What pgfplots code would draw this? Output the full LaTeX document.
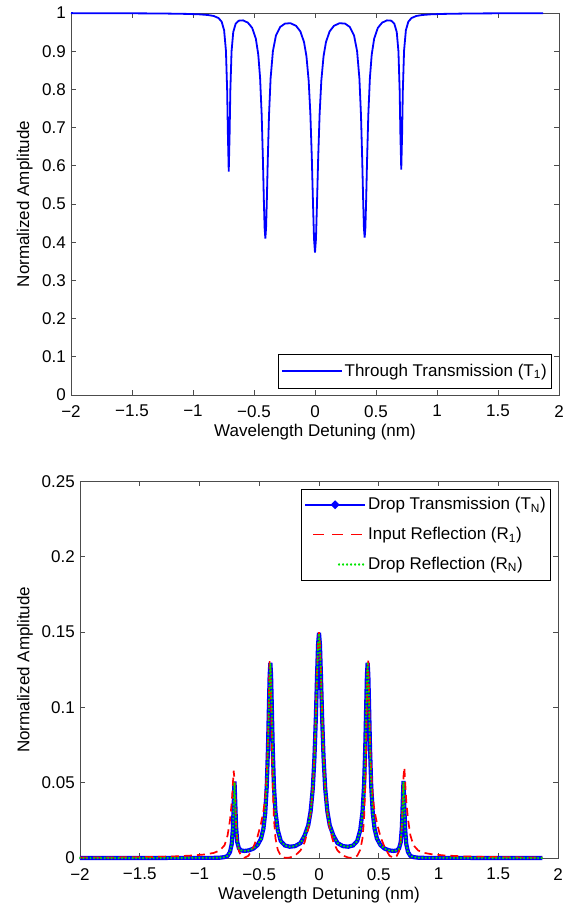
\documentclass[border=0pt]{standalone}
\usepackage{fontspec}
\setmainfont{Liberation Sans}
\usepackage{pgfplots}
\usepackage{pgfplotstable}
\pgfplotsset{compat=1.18}
\definecolor{mblue}{rgb}{0,0,1}
\definecolor{mred}{rgb}{1,0,0}
\definecolor{mgreen}{rgb}{0,0.9,0}
\definecolor{axgray}{gray}{0.3}

\pgfplotstableread{
x t
-2.0 0.9996
-1.7 0.9994
-1.4 0.9990
-1.2 0.9984
-1.05 0.9976
-0.95 0.9965
-0.88 0.9948
-0.83 0.9922
-0.79 0.9866
-0.765 0.9771
-0.745 0.9549
-0.73 0.9012
-0.72 0.7974
-0.714 0.6824
-0.707 0.5850
-0.700 0.6821
-0.694 0.7967
-0.684 0.8995
-0.67 0.9502
-0.65 0.9722
-0.625 0.9799
-0.59 0.9807
-0.55 0.9747
-0.515 0.9610
-0.485 0.9329
-0.465 0.8912
-0.45 0.8299
-0.437 0.7334
-0.427 0.6174
-0.419 0.5065
-0.413 0.4374
-0.407 0.4098
-0.401 0.4373
-0.395 0.5061
-0.387 0.6167
-0.377 0.7325
-0.364 0.8286
-0.345 0.9002
-0.32 0.9412
-0.285 0.9636
-0.245 0.9724
-0.2 0.9732
-0.155 0.9663
-0.12 0.9518
-0.09 0.9240
-0.07 0.8866
-0.052 0.8235
-0.038 0.7364
-0.026 0.6199
-0.016 0.4970
-0.008 0.4092
0 0.3726
0.008 0.4092
0.016 0.4970
0.026 0.6199
0.038 0.7364
0.052 0.8235
0.07 0.8866
0.09 0.9240
0.12 0.9518
0.155 0.9663
0.2 0.9732
0.245 0.9724
0.285 0.9636
0.32 0.9412
0.345 0.9002
0.364 0.8286
0.377 0.7325
0.387 0.6167
0.395 0.5061
0.401 0.4373
0.407 0.4120
0.413 0.4374
0.419 0.5065
0.427 0.6174
0.437 0.7334
0.45 0.8299
0.465 0.8912
0.485 0.9329
0.515 0.9610
0.55 0.9747
0.59 0.9807
0.625 0.9799
0.65 0.9722
0.67 0.9502
0.684 0.8995
0.694 0.7967
0.700 0.6821
0.707 0.5900
0.714 0.6824
0.72 0.7974
0.73 0.9012
0.745 0.9549
0.765 0.9771
0.79 0.9866
0.83 0.9922
0.88 0.9948
0.95 0.9965
1.05 0.9976
1.2 0.9984
1.4 0.9990
1.7 0.9994
1.87 0.9995
}\topdata

\pgfplotstableread{
x tn r1 rn
-2.0 0.0000 0.0003 0.0000
-1.7 0.0000 0.0004 0.0000
-1.4 0.0000 0.0007 0.0000
-1.2 0.0001 0.0011 0.0001
-1.05 0.0001 0.0017 0.0001
-0.95 0.0001 0.0024 0.0001
-0.88 0.0001 0.0034 0.0001
-0.83 0.0002 0.0050 0.0002
-0.79 0.0006 0.0085 0.0006
-0.765 0.0014 0.0150 0.0014
-0.745 0.0039 0.0250 0.0038
-0.73 0.0094 0.0370 0.0092
-0.72 0.0203 0.0500 0.0199
-0.714 0.0350 0.0580 0.0345
-0.707 0.0509 0.0520 0.0500
-0.700 0.0351 0.0360 0.0346
-0.694 0.0208 0.0230 0.0205
-0.684 0.0105 0.0110 0.0104
-0.67 0.0064 0.0045 0.0063
-0.65 0.0050 0.0013 0.0050
-0.625 0.0047 0.0001 0.0047
-0.59 0.0050 0.0015 0.0050
-0.55 0.0062 0.0070 0.0062
-0.515 0.0085 0.0140 0.0084
-0.485 0.0128 0.0230 0.0127
-0.465 0.0195 0.0310 0.0193
-0.45 0.0298 0.0400 0.0295
-0.437 0.0477 0.0560 0.0472
-0.427 0.0727 0.0780 0.0720
-0.419 0.1008 0.1060 0.1000
-0.413 0.1210 0.1310 0.1202
-0.407 0.1297 0.1270 0.1290
-0.401 0.1210 0.1060 0.1202
-0.395 0.1010 0.0780 0.1002
-0.387 0.0730 0.0480 0.0723
-0.377 0.0480 0.0260 0.0475
-0.364 0.0305 0.0130 0.0302
-0.345 0.0185 0.0055 0.0183
-0.32 0.0113 0.0015 0.0112
-0.285 0.0083 0.0001 0.0083
-0.245 0.0075 0.0003 0.0075
-0.2 0.0079 0.0016 0.0079
-0.155 0.0099 0.0050 0.0099
-0.12 0.0150 0.0105 0.0149
-0.09 0.0217 0.0195 0.0215
-0.07 0.0309 0.0300 0.0306
-0.052 0.0461 0.0460 0.0457
-0.038 0.0669 0.0680 0.0664
-0.026 0.0939 0.0960 0.0933
-0.016 0.1219 0.1240 0.1212
-0.008 0.1415 0.1420 0.1408
0 0.1495 0.1500 0.1490
0.008 0.1415 0.1420 0.1408
0.016 0.1219 0.1240 0.1212
0.026 0.0939 0.0960 0.0933
0.038 0.0669 0.0680 0.0664
0.052 0.0461 0.0460 0.0457
0.07 0.0309 0.0300 0.0306
0.09 0.0217 0.0195 0.0215
0.12 0.0150 0.0105 0.0149
0.155 0.0099 0.0050 0.0099
0.2 0.0079 0.0016 0.0079
0.245 0.0075 0.0003 0.0075
0.285 0.0083 0.0001 0.0083
0.32 0.0113 0.0015 0.0112
0.345 0.0185 0.0055 0.0183
0.364 0.0305 0.0130 0.0302
0.377 0.0480 0.0260 0.0475
0.387 0.0730 0.0480 0.0723
0.395 0.1010 0.0780 0.1002
0.401 0.1210 0.1060 0.1202
0.407 0.1297 0.1270 0.1290
0.413 0.1210 0.1310 0.1202
0.419 0.1008 0.1060 0.1000
0.427 0.0727 0.0780 0.0720
0.437 0.0477 0.0560 0.0472
0.45 0.0298 0.0400 0.0295
0.465 0.0195 0.0310 0.0193
0.485 0.0128 0.0230 0.0127
0.515 0.0085 0.0140 0.0084
0.55 0.0062 0.0070 0.0062
0.59 0.0050 0.0015 0.0050
0.625 0.0047 0.0001 0.0047
0.65 0.0050 0.0013 0.0050
0.67 0.0064 0.0045 0.0063
0.684 0.0105 0.0110 0.0104
0.694 0.0208 0.0230 0.0205
0.700 0.0351 0.0360 0.0346
0.707 0.0512 0.0540 0.0505
0.714 0.0350 0.0600 0.0345
0.72 0.0203 0.0520 0.0199
0.73 0.0094 0.0380 0.0092
0.745 0.0039 0.0255 0.0038
0.765 0.0014 0.0150 0.0014
0.79 0.0006 0.0085 0.0006
0.83 0.0002 0.0050 0.0002
0.88 0.0001 0.0034 0.0001
0.95 0.0001 0.0024 0.0001
1.05 0.0001 0.0017 0.0001
1.2 0.0001 0.0011 0.0001
1.4 0.0000 0.0007 0.0000
1.7 0.0000 0.0004 0.0000
1.87 0.0000 0.0003 0.0000
}\botdata

\pgfplotsset{
  matlab/.style={
    scale only axis,
    clip=false,
    xmin=-2, xmax=2,
    axis line style={axgray, line width=0.9pt},
    tick style={axgray, line width=0.9pt},
    tick align=inside,
    major tick length=5pt,
    xtick={-2,-1.5,-1,-0.5,0,0.5,1,1.5,2},
    xticklabels={−2,−1.5,−1,−0.5,0,0.5,1,1.5,2},
    xticklabel style={inner sep=0pt, anchor=north, yshift=-10pt},
    yticklabel style={inner sep=0pt, anchor=east, xshift=-5pt},
    xlabel={Wavelength Detuning (nm)},
    ylabel={Normalized Amplitude},
    legend cell align=left,
    legend style={draw=black, line width=0.6pt, fill=white,
      inner xsep=3pt, inner ysep=6pt, row sep=11pt},
  }
}

\begin{document}
\fontsize{17pt}{20pt}\selectfont
\begin{tikzpicture}
\begin{axis}[matlab,
  at={(71pt,508pt)}, anchor=south west,
  width=488pt, height=382pt,
  ymin=0, ymax=1,
  ytick={0,0.1,0.2,0.3,0.4,0.5,0.6,0.7,0.8,0.9,1},
  yticklabels={0,0.1,0.2,0.3,0.4,0.5,0.6,0.7,0.8,0.9,1},
  xlabel style={at={(axis description cs:0.5,-0.076)}, anchor=north, inner sep=0pt},
  ylabel style={at={(axis description cs:-0.078,0.5)}, anchor=south, inner sep=0pt},
  legend style={at={(rel axis cs:1,0)}, anchor=south east, xshift=-7pt, yshift=6pt, inner ysep=8pt},
]
\addplot[mblue, line width=1.8pt,
  legend image code/.code={\draw[draw=mblue, line width=1.7pt] (0pt,0pt) -- (60pt,0pt);}]
  table[x=x, y=t] {\topdata};
\addlegendentry{Through Transmission (T\textsubscript{1})}
\end{axis}

\begin{axis}[matlab,
  at={(80pt,45pt)}, anchor=south west,
  width=478pt, height=376.5pt,
  ymin=0, ymax=0.25,
  ytick={0,0.05,0.1,0.15,0.2,0.25},
  yticklabels={0,0.05,0.1,0.15,0.2,0.25},
  xlabel style={at={(axis description cs:0.5,-0.077)}, anchor=north, inner sep=0pt},
  ylabel style={at={(axis description cs:-0.098,0.5)}, anchor=south, inner sep=0pt},
  legend style={at={(rel axis cs:1,1)}, anchor=north east, xshift=-7pt, yshift=-7.5pt},
]
\addplot[mblue, line width=4.2pt,
  legend image code/.code={\draw[draw=mblue, line width=1.6pt] (0pt,0pt) -- (60pt,0pt); \fill[fill=mblue] (30pt,0pt) circle (1.5pt);}]
  table[x=x, y=tn] {\botdata};
\addlegendentry{Drop Transmission (T\textsubscript{N})}
\addplot[mred, line width=1.7pt, dash pattern=on 8pt off 5pt,
  legend image code/.code={\draw[draw=mred, line width=1.7pt, dash pattern=on 11pt off 8pt] (8pt,0pt) -- (60pt,0pt);}]
  table[x=x, y=r1] {\botdata};
\addlegendentry{Input Reflection (R\textsubscript{1})}
\addplot[mgreen, line width=2.4pt, line cap=round, dash pattern=on 0.01pt off 3.5pt,
  legend image code/.code={\draw[draw=mgreen, line width=2.2pt, line cap=round, dash pattern=on 0.01pt off 4pt] (34pt,0pt) -- (60pt,0pt);}]
  table[x=x, y=rn] {\botdata};
\addlegendentry{Drop Reflection (R\textsubscript{N})}
\end{axis}
\pgfresetboundingbox
\useasboundingbox (0,0) rectangle (579pt,903pt);
\end{tikzpicture}
\end{document}
